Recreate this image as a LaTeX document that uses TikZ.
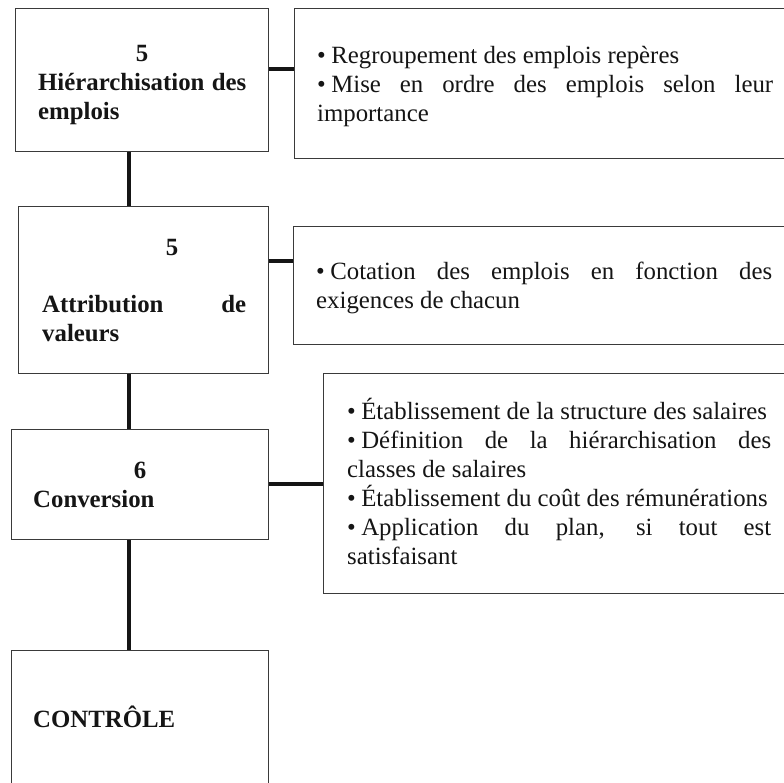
\documentclass[tikz,border=0pt]{standalone}
\usepackage{fontspec}
\setmainfont{Liberation Serif}
\definecolor{boxline}{HTML}{3A3A3A}
\definecolor{ink}{HTML}{151515}
% bullet with a fixed gap after it
\newcommand{\puce}{•\kern.22em}
% word-processor style spacing: spaces only stretch, no hyphenation
\newcommand{\wpspacing}{\spaceskip=.25em plus 3em minus 0em\relax
  \xspaceskip=\spaceskip\hyphenpenalty=10000\exhyphenpenalty=10000\tolerance=9999\relax}
\tikzset{
  stage/.style={draw=boxline, line width=1.4pt, fill=white, inner sep=0pt, anchor=north west},
  detail/.style={draw=boxline, line width=1.4pt, fill=white, inner sep=0pt, anchor=north west},
  link/.style={draw=ink, line width=3.2pt},
  txt/.style={inner sep=0pt, text=ink, font=\fontsize{24.8pt}{29pt}\selectfont\wpspacing},
  num/.style={txt, font=\fontsize{24.8pt}{29pt}\selectfont\bfseries, anchor=base},
  heading/.style={txt, font=\fontsize{24.8pt}{29pt}\selectfont\bfseries\wpspacing, anchor=base west, align=justify},
  bullets/.style={txt, anchor=base west, align=justify}
}
\begin{document}
\begin{tikzpicture}[x=1pt, y=-1pt]
  \useasboundingbox (0,0) rectangle (784,782);
  \fill[white] (0,0) rectangle (784,782);
  \clip (0,0) rectangle (784,782);

  % stages of the process (left column)
  \node[stage, minimum width=253pt, minimum height=143pt] (b1) at (15,8) {};
  \node[stage, minimum width=250pt, minimum height=167pt] (b2) at (18,206) {};
  \node[stage, minimum width=257pt, minimum height=110pt] (b3) at (11,429) {};
  \node[stage, minimum width=257pt, minimum height=160pt] (b4) at (11,650) {};

  % descriptions (right column, running off the right edge)
  \node[detail, minimum width=520pt, minimum height=150pt] (r1) at (294,8) {};
  \node[detail, minimum width=520pt, minimum height=118pt] (r2) at (293,226) {};
  \node[detail, minimum width=490pt, minimum height=220pt] (r3) at (323,373) {};

  % junction heights of the side links
  \coordinate (j1) at (281,69);
  \coordinate (j2) at (281,261);
  \coordinate (j3) at (296,484);
  \coordinate (spine) at (129,0);

  % links
  \draw[link] (b1.south -| spine) -- (b2.north -| spine);
  \draw[link] (b2.south -| spine) -- (b3.north -| spine);
  \draw[link] (b3.south -| spine) -- (b4.north -| spine);
  \draw[link] (b1.east |- j1) -- (r1.west |- j1);
  \draw[link] (b2.east |- j2) -- (r2.west |- j2);
  \draw[link] (b3.east |- j3) -- (r3.west |- j3);

  % stage labels
  \node[num] (n1) at (142,61) {5};
  \node[heading, text width=208pt] (h1) at (38,90) {Hiérarchisation des emplois};

  \node[num] (n2) at (172,255) {5};
  \node[heading, text width=204pt] (h2) at (42,312) {Attribution de valeurs};

  \node[num] (n3) at (140,478) {6};
  \node[heading] (h3) at (33,507) {Conversion};

  \node[heading] (h4) at (33,727) {CONTRÔLE};

  % description texts
  \node[bullets, text width=456pt] (d1) at (317,63)
    {\puce Regroupement des emplois repères\par
     \puce Mise en ordre des emplois selon leur importance};
  \node[bullets, text width=456pt] (d2) at (316,279)
    {\puce Cotation des emplois en fonction des exigences de chacun};
  \node[bullets, text width=424pt] (d3) at (347,419)
    {\puce Établissement de la structure des salaires\par
     \puce Définition de la hiérarchisation des classes de salaires\par
     \puce Établissement du coût des rémunérations\par
     \puce Application du plan, si tout est satisfaisant};
\end{tikzpicture}
\end{document}
